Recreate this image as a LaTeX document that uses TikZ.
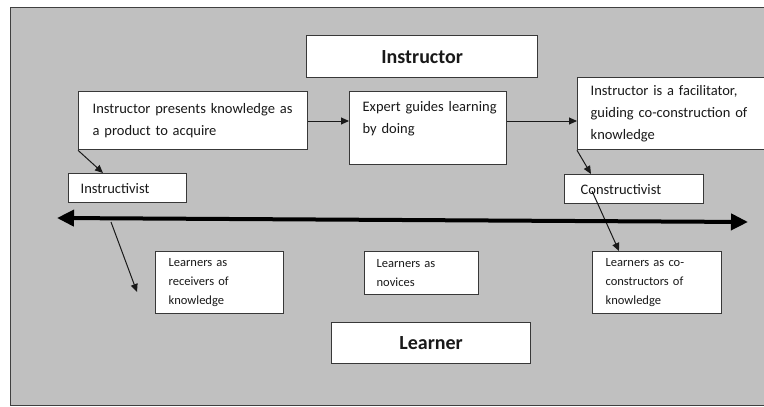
\documentclass[tikz,border=0pt]{standalone}
\usepackage{fontspec}
\setmainfont{Carlito}
\usetikzlibrary{arrows.meta,calc}
\definecolor{bggray}{RGB}{192,192,192}
\begin{document}
\begin{tikzpicture}[x=1pt,y=-1pt,
  box/.style={draw=black!78, line width=1.3pt, fill=white, anchor=north west, align=left, inner ysep=0pt, text=black!90},
  big/.style={font=\fontsize{14.5}{22}\selectfont},
  small/.style={font=\fontsize{12.5}{19}\selectfont},
  head/.style={font=\fontsize{20}{24}\selectfont\bfseries, align=center, inner xsep=0pt},
  conn/.style={draw=black!90, line width=1pt, -{Triangle[length=8pt,width=7pt]}},
  axis/.style={draw=black, line width=4pt, {Triangle[length=17pt,width=16pt]}-{Triangle[length=17pt,width=16pt]}}
]
\useasboundingbox (0,0) rectangle (764,407);
\begin{scope}
\clip (0,0) rectangle (764,407);
\draw[fill=bggray, draw=black!75, line width=1pt] (10,7) rectangle (790,405);

\node[box,head,text width=231pt,minimum height=42pt] (inst) at (306,35) {Instructor};
\node[box,big,inner xsep=14pt,text width=201pt,minimum height=58pt] (pres) at (78,91) {\mbox{Instructor presents knowledge as}\\a product to acquire};
\node[box,big,inner xsep=13pt,text width=131pt,minimum height=73pt] (expert) at (349,91) {\mbox{Expert guides learning}\\by doing\\\mbox{}};
\node[box,big,inner xsep=13pt,text width=187pt,minimum height=72pt] (facil) at (577,77) {Instructor is a facilitator,\\guiding co-construction of\\knowledge};
\node[box,big,inner xsep=12pt,text width=94pt,minimum height=29pt] (instr) at (68,173) {Instructivist};
\node[box,big,inner xsep=16pt,text width=107pt,minimum height=29pt] (constr) at (564,174) {Constructivist};
\node[box,small,inner xsep=13pt,text width=102pt,minimum height=62pt] (recv) at (155,251) {Learners as\\receivers of\\knowledge};
\node[box,small,inner xsep=12pt,text width=90pt,minimum height=43pt] (nov) at (364,251) {Learners as\\novices};
\node[box,small,inner xsep=13pt,text width=103pt,minimum height=62pt] (cocon) at (592,251) {Learners as co-\\constructors of\\knowledge};
\node[box,head,text width=199pt,minimum height=41pt] (learner) at (331,322) {Learner};

\coordinate (ylev) at (0,121);
\draw[conn] (pres.east |- ylev) -- (expert.west |- ylev);
\draw[conn] (expert.east |- ylev) -- (facil.west |- ylev);
\draw[conn] (pres.south west) -- ($(instr.north west)+(35,0)$);
\draw[conn] (facil.south west) -- ($(constr.north west)+(27,0)$);
\draw[conn] ($(constr.north west)+(28,17)$) -- ($(cocon.north west)+(27,0)$);

\coordinate (axL) at (57,218);
\coordinate (axR) at (748,222);
\draw[axis] (axL) -- (axR);
\coordinate (d1) at (111,222);
\coordinate (d1e) at (137,292);
\draw[conn] (d1) -- (d1e);
\end{scope}
\end{tikzpicture}
\end{document}
